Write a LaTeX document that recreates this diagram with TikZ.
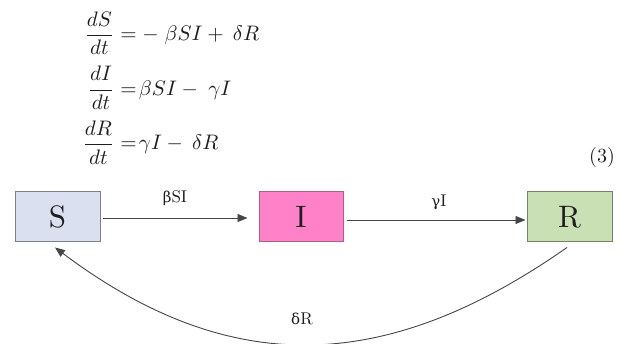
\documentclass[tikz,border=0pt]{standalone}
\usepackage{amsmath}
\usepackage[no-math]{fontspec}
\newfontfamily\gk{DejaVu Serif}[Scale=0.88]
\newfontfamily\lmten{lmroman10-regular.otf}
\usetikzlibrary{arrows.meta,calc}
\definecolor{sfill}{RGB}{218,224,240}
\definecolor{sdraw}{RGB}{125,128,135}
\definecolor{ifill}{RGB}{255,130,200}
\definecolor{idraw}{RGB}{170,95,140}
\definecolor{rfill}{RGB}{200,224,180}
\definecolor{rdraw}{RGB}{115,130,105}
\definecolor{ink}{RGB}{30,30,30}
\definecolor{wire}{RGB}{70,70,70}
\begin{document}
\begin{tikzpicture}[x=1pt,y=-1pt,
  box/.style={draw, line width=1pt, minimum width=85pt, minimum height=50pt, inner sep=0pt,
    font={\lmten\fontsize{31}{31}\selectfont}, text=ink},
  lbl/.style={font={\lmten\fontsize{17}{17}\selectfont}, inner sep=0pt, text=ink},
  conn/.style={draw=wire, line width=0.9pt, -{Triangle[length=10pt,width=8pt]}}
]
\useasboundingbox (0,0) rectangle (637,344);
\fill[white] (0,0) rectangle (637,344);

\node[anchor=west, inner sep=0pt, scale=2.1, text=ink] (eq) at (82,88)
  {$\begin{aligned}
    \frac{dS}{dt} &= -\;\beta SI + \:\delta R\\[1.5pt]
    \frac{dI}{dt} &= \!\beta SI - \;\gamma I\\[1.5pt]
    \frac{dR}{dt} &= \!\gamma I - \:\delta R
  \end{aligned}$};
\node[font={\lmten\fontsize{20}{20}\selectfont}, inner sep=0pt, text=ink] (num) at (602,158) {(3)};

\node[box, fill=sfill, draw=sdraw] (S) at (57.5,217) {S};
\node[box, fill=ifill, draw=idraw, minimum width=84pt] (I) at (301,217) {I};
\node[box, fill=rfill, draw=rdraw] (R) at (569.5,217) {R};

\draw[conn, shorten <=2pt, shorten >=11pt] ([yshift=-1pt]S.east) -- ([yshift=-1pt]I.west);
\draw[conn, shorten <=3pt, shorten >=1pt] ([yshift=-3pt]I.east) -- ([yshift=-3pt]R.west);
\draw[conn] ($(R.south)+(-2.5,5)$) .. controls (389,372) and (233,381) .. ($(S.south)+(-2.5,5)$);

\node[lbl] (l1) at (175,198) {{\gk β}SI};
\node[lbl] (l2) at (439,202) {{\gk γ}I};
\node[lbl] (l3) at (302,319) {{\gk δ}R};
\end{tikzpicture}
\end{document}
